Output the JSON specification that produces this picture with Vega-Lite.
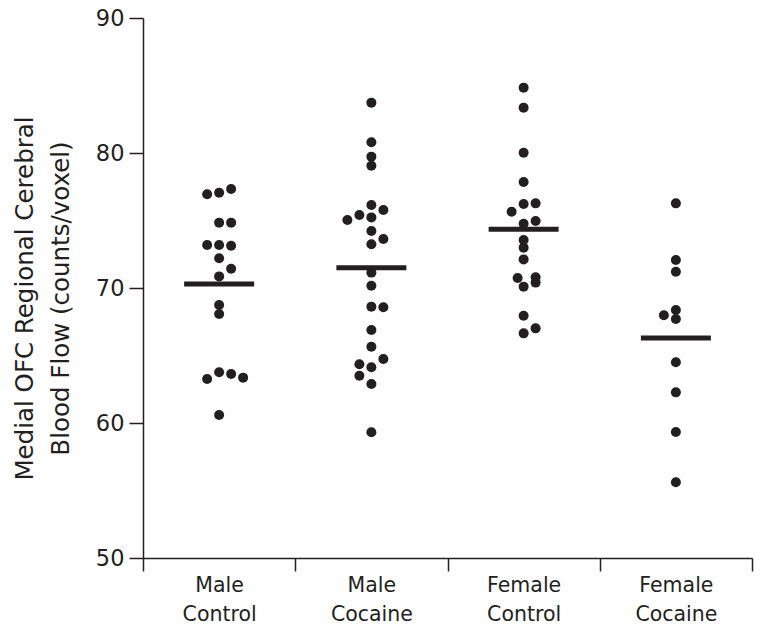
{
  "$schema": "https://vega.github.io/schema/vega-lite/v6.json",
  "width": 609,
  "height": 540,
  "autosize": "none",
  "padding": {"left": 143, "top": 18, "right": 9, "bottom": 77},
  "background": "white",
  "config": {
    "view": {"stroke": null},
    "font": "DejaVu Sans",
    "axis": {
      "grid": false,
      "domainColor": "#231f20",
      "tickColor": "#231f20",
      "labelColor": "#231f20",
      "titleColor": "#231f20",
      "domainWidth": 1.5,
      "tickWidth": 1.5,
      "labelFont": "DejaVu Sans",
      "titleFont": "DejaVu Sans",
      "titleFontWeight": "normal"
    }
  },
  "datasets": {
    "points": [
      {"group": "Male Control", "value": 76.94, "col": -1},
      {"group": "Male Control", "value": 77.06, "col": 0},
      {"group": "Male Control", "value": 77.33, "col": 1},
      {"group": "Male Control", "value": 74.84, "col": 0},
      {"group": "Male Control", "value": 74.84, "col": 1},
      {"group": "Male Control", "value": 73.19, "col": -1},
      {"group": "Male Control", "value": 73.19, "col": 0},
      {"group": "Male Control", "value": 73.13, "col": 1},
      {"group": "Male Control", "value": 72.2, "col": 0},
      {"group": "Male Control", "value": 71.43, "col": 1},
      {"group": "Male Control", "value": 70.86, "col": 0},
      {"group": "Male Control", "value": 68.74, "col": 0},
      {"group": "Male Control", "value": 68.07, "col": 0},
      {"group": "Male Control", "value": 63.26, "col": -1},
      {"group": "Male Control", "value": 63.76, "col": 0},
      {"group": "Male Control", "value": 63.63, "col": 1},
      {"group": "Male Control", "value": 63.36, "col": 2},
      {"group": "Male Control", "value": 60.59, "col": 0},
      {"group": "Male Cocaine", "value": 83.73, "col": 0},
      {"group": "Male Cocaine", "value": 80.79, "col": 0},
      {"group": "Male Cocaine", "value": 79.73, "col": 0},
      {"group": "Male Cocaine", "value": 79.06, "col": 0},
      {"group": "Male Cocaine", "value": 76.15, "col": 0},
      {"group": "Male Cocaine", "value": 75.78, "col": 1},
      {"group": "Male Cocaine", "value": 75.41, "col": -1},
      {"group": "Male Cocaine", "value": 75.04, "col": -2},
      {"group": "Male Cocaine", "value": 75.23, "col": 0},
      {"group": "Male Cocaine", "value": 74.22, "col": 0},
      {"group": "Male Cocaine", "value": 73.63, "col": 1},
      {"group": "Male Cocaine", "value": 73.24, "col": 0},
      {"group": "Male Cocaine", "value": 71.14, "col": 0},
      {"group": "Male Cocaine", "value": 70.17, "col": 0},
      {"group": "Male Cocaine", "value": 68.62, "col": 0},
      {"group": "Male Cocaine", "value": 68.57, "col": 1},
      {"group": "Male Cocaine", "value": 66.89, "col": 0},
      {"group": "Male Cocaine", "value": 65.65, "col": 0},
      {"group": "Male Cocaine", "value": 64.74, "col": 1},
      {"group": "Male Cocaine", "value": 64.35, "col": -1},
      {"group": "Male Cocaine", "value": 64.13, "col": 0},
      {"group": "Male Cocaine", "value": 63.5, "col": -1},
      {"group": "Male Cocaine", "value": 62.89, "col": 0},
      {"group": "Male Cocaine", "value": 59.31, "col": 0},
      {"group": "Female Control", "value": 84.84, "col": 0},
      {"group": "Female Control", "value": 83.36, "col": 0},
      {"group": "Female Control", "value": 80.02, "col": 0},
      {"group": "Female Control", "value": 77.85, "col": 0},
      {"group": "Female Control", "value": 76.22, "col": 0},
      {"group": "Female Control", "value": 76.27, "col": 1},
      {"group": "Female Control", "value": 75.65, "col": -1},
      {"group": "Female Control", "value": 74.76, "col": 0},
      {"group": "Female Control", "value": 74.96, "col": 1},
      {"group": "Female Control", "value": 73.56, "col": 0},
      {"group": "Female Control", "value": 72.99, "col": 0},
      {"group": "Female Control", "value": 72.12, "col": 0},
      {"group": "Female Control", "value": 70.74, "col": -0.5},
      {"group": "Female Control", "value": 70.79, "col": 1},
      {"group": "Female Control", "value": 70.4, "col": 1},
      {"group": "Female Control", "value": 70.1, "col": 0},
      {"group": "Female Control", "value": 67.95, "col": 0},
      {"group": "Female Control", "value": 67.01, "col": 1},
      {"group": "Female Control", "value": 66.64, "col": 0},
      {"group": "Female Cocaine", "value": 76.27, "col": 0},
      {"group": "Female Cocaine", "value": 72.07, "col": 0},
      {"group": "Female Cocaine", "value": 71.21, "col": 0},
      {"group": "Female Cocaine", "value": 68.37, "col": 0},
      {"group": "Female Cocaine", "value": 67.98, "col": -1},
      {"group": "Female Cocaine", "value": 67.7, "col": 0},
      {"group": "Female Cocaine", "value": 64.5, "col": 0},
      {"group": "Female Cocaine", "value": 62.27, "col": 0},
      {"group": "Female Cocaine", "value": 59.33, "col": 0},
      {"group": "Female Cocaine", "value": 55.61, "col": 0}
    ],
    "means": [
      {"group": "Male Control", "value": 70.3},
      {"group": "Male Cocaine", "value": 71.5},
      {"group": "Female Control", "value": 74.35},
      {"group": "Female Cocaine", "value": 66.3}
    ]
  },
  "layer": [
    {
      "data": {"name": "points"},
      "mark": {"type": "circle", "size": 100, "opacity": 1, "color": "#231f20"},
      "encoding": {
        "x": {
          "field": "group",
          "type": "nominal",
          "sort": ["Male Control", "Male Cocaine", "Female Control", "Female Cocaine"],
          "scale": {"paddingInner": 0, "paddingOuter": 0},
          "axis": {
            "title": null,
            "labelAngle": 0,
            "labelExpr": "datum.value ? split(datum.value, ' ') : ''",
            "labelFontSize": 20.5,
            "labelLineHeight": 29,
            "labelPadding": 4,
            "tickBand": "extent",
            "tickSize": 13
          }
        },
        "xOffset": {"field": "col", "type": "quantitative", "scale": {"domain": [-6.35, 6.35]}},
        "y": {
          "field": "value",
          "type": "quantitative",
          "scale": {"domain": [50, 90]},
          "axis": {
            "values": [50, 60, 70, 80, 90],
            "tickSize": 14,
            "labelFontSize": 22.5,
            "labelPadding": 5,
            "title": ["Medial OFC Regional Cerebral", "Blood Flow (counts/voxel)"],
            "titleFontSize": 24.5,
            "titleLineHeight": 36,
            "titleAngle": 270,
            "titleAlign": "center",
            "titleBaseline": "bottom",
            "titleX": -106,
            "titleY": 280
          }
        }
      }
    },
    {
      "data": {"name": "means"},
      "mark": {"type": "tick", "size": 70, "thickness": 5, "color": "#231f20", "opacity": 1},
      "encoding": {
        "x": {"field": "group", "type": "nominal", "sort": ["Male Control", "Male Cocaine", "Female Control", "Female Cocaine"]},
        "y": {"field": "value", "type": "quantitative"}
      }
    }
  ]
}
